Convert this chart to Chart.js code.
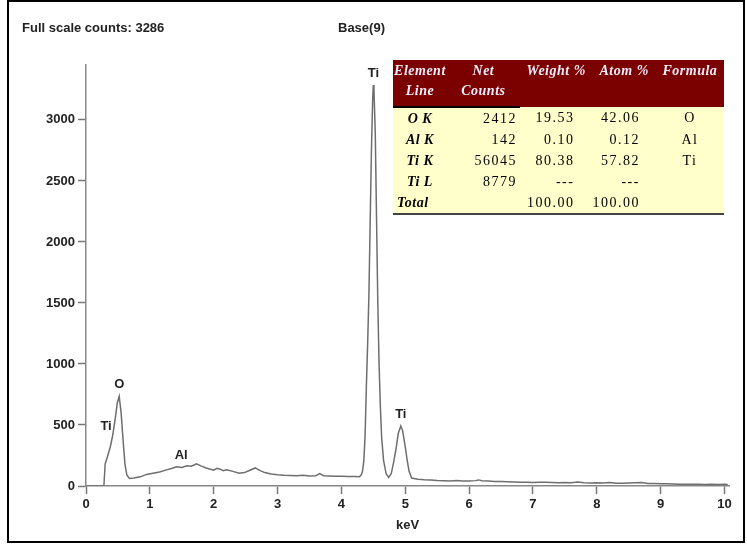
<!DOCTYPE html>
<html>
<head>
<meta charset="utf-8">
<title>EDS spectrum</title>
<script src="https://cdn.jsdelivr.net/npm/chart.js@4.4.1/dist/chart.umd.min.js"></script>
<style>
    body { margin: 0; background: #fff; }
    #wrap { position: relative; width: 747px; height: 544px; overflow: hidden; }
    #frame { position: absolute; left: 7px; top: 0; width: 734px; height: 539px; border: 2px solid #000; }
    #spectrum { position: absolute; left: 0; top: 0; }
    .note { position: absolute; top: 20px; font: bold 13px "Liberation Sans", Arial, sans-serif; color: #222; line-height: 15px; }
    #quant { position: absolute; left: 393px; top: 60px; width: 331px; border-collapse: collapse;
             font: 14px "Liberation Serif", "Times New Roman", serif; color: #000; }
    #quant th { background: #7b0000; color: #f4eeff; font-style: italic; font-weight: bold; padding: 0;
                line-height: 14px; vertical-align: top; letter-spacing: 0.5px; }
    #quant thead tr:first-child th { height: 20px; padding-top: 4px; }
    #quant thead tr:last-child th { height: 22px; border-bottom: 2px solid #000; }
    #quant td { background: #ffffcc; height: 21px; padding: 0; line-height: 14px; letter-spacing: 1.5px; }
    #quant tbody tr:last-child td { border-bottom: 2px solid #444; }
    #quant td.el { font-weight: bold; font-style: italic; text-align: center; letter-spacing: 0.5px; }
    #quant td.num { text-align: right; }
    #quant td.fm { text-align: center; }
</style>
</head>
<body>
<div id="wrap">
    <canvas id="spectrum" width="747" height="544"></canvas>
    <div id="frame"></div>
    <div class="note" style="left:22px">Full scale counts: 3286</div>
    <div class="note" style="left:338px">Base(9)</div>
    <table id="quant">
        <colgroup>
            <col style="width:54px"><col style="width:75px"><col style="width:73px"><col style="width:60px"><col style="width:69px">
        </colgroup>
        <thead>
            <tr><th>Element</th><th>Net</th><th rowspan="2">Weight %</th><th rowspan="2">Atom %</th><th rowspan="2">Formula</th></tr>
            <tr><th>Line</th><th>Counts</th></tr>
        </thead>
        <tbody id="quant-body"></tbody>
    </table>
</div>
<script>
// spectrum: energy (keV) and counts per channel
const energyKeV = [
    0, 0.1, 0.2, 0.28, 0.30, 0.33, 0.38, 0.42, 0.46, 0.49, 0.52, 0.55, 0.58, 0.61, 0.64, 0.68,
    0.75, 0.85, 0.95, 1.05, 1.15, 1.25, 1.35, 1.42, 1.50, 1.58, 1.65, 1.73, 1.80, 1.88, 1.95,
    2.00, 2.05, 2.10, 2.15, 2.20, 2.30, 2.40, 2.48, 2.55, 2.65, 2.72, 2.80, 2.90, 3.00, 3.10,
    3.20, 3.30, 3.40, 3.50, 3.60, 3.66, 3.72, 3.80, 3.90, 4.00, 4.10, 4.20, 4.28, 4.31, 4.33,
    4.35, 4.37, 4.39, 4.41, 4.43, 4.45, 4.47, 4.49, 4.50, 4.51, 4.53, 4.55, 4.57, 4.59, 4.61,
    4.63, 4.66, 4.70, 4.74, 4.78, 4.82, 4.86, 4.89, 4.93, 4.96, 5.00, 5.03, 5.06, 5.10, 5.20,
    5.30, 5.40, 5.50, 5.60, 5.70, 5.80, 5.90, 6.00, 6.10, 6.15, 6.20, 6.30, 6.40, 6.50, 6.60,
    6.70, 6.80, 6.90, 7.00, 7.10, 7.20, 7.30, 7.40, 7.50, 7.60, 7.70, 7.80, 7.90, 8.00, 8.10,
    8.20, 8.30, 8.40, 8.50, 8.60, 8.70, 8.80, 8.90, 9.00, 9.10, 9.20, 9.30, 9.40, 9.50, 9.60,
    9.70, 9.80, 9.90, 10.00, 10.05
];
const counts = [
    0, 0, 0, 0, 180, 230, 320, 420, 560, 680, 735, 600, 380, 180, 90, 62,
    65, 75, 95, 105, 115, 130, 145, 158, 152, 165, 162, 182, 165, 148, 138,
    130, 145, 138, 125, 132, 120, 105, 110, 125, 148, 128, 110, 98, 92, 88,
    86, 84, 88, 82, 84, 102, 84, 82, 80, 80, 78, 78, 76, 90, 120,
    200, 400, 800, 1150, 1550, 2150, 2750, 3180, 3286, 3240, 2900, 2200, 1500, 1000, 650,
    400, 210, 100, 70, 100, 200, 320, 430, 492, 450, 320, 210, 120, 65, 56,
    52, 50, 46, 44, 42, 45, 41, 40, 44, 50, 43, 40, 37, 36, 34,
    33, 31, 30, 29, 31, 30, 28, 27, 28, 27, 32, 26, 25, 26, 24,
    28, 23, 22, 24, 27, 29, 21, 20, 19, 18, 17, 15, 14, 15, 14,
    13, 14, 13, 14, 13
];

// identified lines, placed at the peak they mark
const lineNames = ['Ti', 'O', 'Al', 'Ti', 'Ti'];
const lineKeV = [0.45, 0.52, 1.49, 4.50, 4.93];
const lineCounts = [490, 735, 155, 3286, 492];
const lineSide = ['left', 'top', 'top', 'top', 'top'];

// quantification table
const tableElements = ['O K', 'Al K', 'Ti K', 'Ti L', 'Total'];
const tableNetCounts = ['2412', '142', '56045', '8779', ''];
const tableWeight = ['19.53', '0.10', '80.38', '---', '100.00'];
const tableAtom = ['42.06', '0.12', '57.82', '---', '100.00'];
const tableFormula = ['O', 'Al', 'Ti', '', ''];

const yTicks = [0, 500, 1000, 1500, 2000, 2500, 3000];

const axisFont = { family: '"Liberation Sans", Arial, sans-serif', size: 13, weight: 'bold' };

function fillTable() {
    const body = document.getElementById('quant-body');
    tableElements.forEach((el, i) => {
        const tr = document.createElement('tr');
        const cells = [
            [el, 'el'],
            [tableNetCounts[i], 'num'],
            [tableWeight[i], 'num'],
            [tableAtom[i], 'num'],
            [tableFormula[i], 'fm']
        ];
        cells.forEach(([text, cls], j) => {
            const td = document.createElement('td');
            td.className = cls;
            td.textContent = text;
            if (j === 1) td.style.paddingRight = '3px';
            if (j === 2) td.style.paddingRight = '18px';
            if (j === 3) td.style.paddingRight = '16px';
            if (el === 'Total' && j === 0) { td.style.textAlign = 'left'; td.style.paddingLeft = '4px'; }
            tr.appendChild(td);
        });
        body.appendChild(tr);
    });
}

const peakLabels = {
    id: 'peakLabels',
    afterDatasetsDraw(chart) {
        const { ctx, scales: { x, y } } = chart;
        ctx.save();
        ctx.font = 'bold 13px "Liberation Sans", Arial, sans-serif';
        ctx.fillStyle = '#222';
        lineNames.forEach((name, i) => {
            const px = x.getPixelForValue(lineKeV[i]);
            const py = y.getPixelForValue(lineCounts[i]);
            if (lineSide[i] === 'left') {
                ctx.textAlign = 'right';
                ctx.textBaseline = 'middle';
                ctx.fillText(name, px - 3, py);
            } else {
                ctx.textAlign = 'center';
                ctx.textBaseline = 'bottom';
                ctx.fillText(name, px, py - 5);
            }
        });
        ctx.restore();
    }
};

function drawSpectrum() {
    const ctx = document.getElementById('spectrum').getContext('2d');
    new Chart(ctx, {
        type: 'line',
        data: {
            datasets: [{
                data: energyKeV.map((e, i) => ({ x: e, y: counts[i] })),
                borderColor: '#6e6e6e',
                borderWidth: 1.5,
                pointRadius: 0,
                tension: 0,
                fill: false
            }]
        },
        options: {
            responsive: false,
            animation: false,
            layout: { padding: { top: 65, right: 18, left: 0, bottom: 0 } },
            plugins: { legend: { display: false }, tooltip: { enabled: false } },
            scales: {
                x: {
                    type: 'linear',
                    min: 0,
                    max: 10.07,
                    afterFit: scale => { scale.height = 58; },
                    border: { color: '#888', width: 1.5 },
                    grid: { drawOnChartArea: false, color: '#777', tickLength: 8, tickWidth: 1.5 },
                    ticks: {
                        stepSize: 1,
                        includeBounds: false,
                        padding: 3,
                        maxRotation: 0,
                        color: '#222',
                        font: axisFont
                    },
                    title: {
                        display: true,
                        text: 'keV',
                        color: '#222',
                        padding: { top: 0, bottom: 11 },
                        font: axisFont
                    }
                },
                y: {
                    min: 0,
                    max: 3450,
                    afterFit: scale => { scale.width = 86; },
                    afterBuildTicks: scale => { scale.ticks = yTicks.map(v => ({ value: v })); },
                    border: { color: '#888', width: 1.5 },
                    grid: { drawOnChartArea: false, color: '#777', tickLength: 8, tickWidth: 1.5 },
                    ticks: {
                        padding: 3,
                        color: '#222',
                        font: axisFont,
                        callback: value => String(value)
                    }
                }
            }
        },
        plugins: [peakLabels]
    });
}

document.addEventListener('DOMContentLoaded', function() {
    fillTable();
    drawSpectrum();
});
</script>
</body>
</html>
